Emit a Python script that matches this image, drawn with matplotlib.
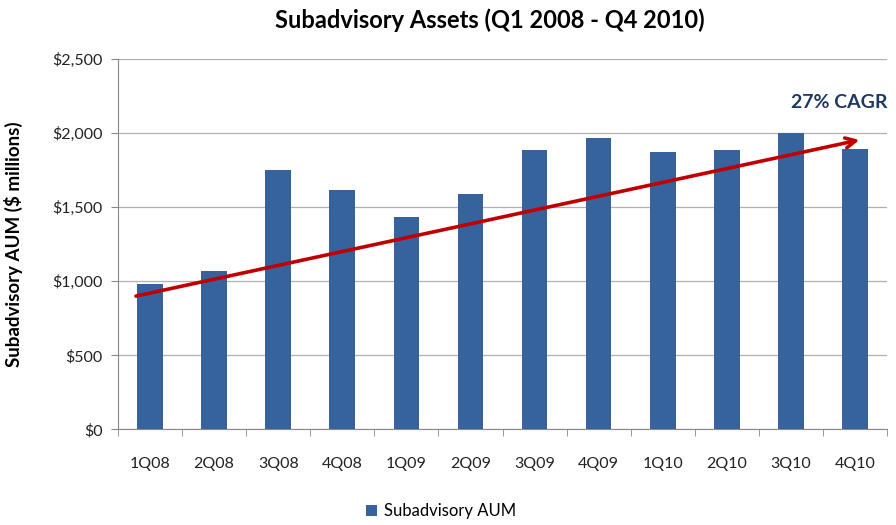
import numpy as np
import matplotlib.pyplot as plt
from matplotlib.ticker import FuncFormatter, MultipleLocator

## data
quarters = ['1Q08', '2Q08', '3Q08', '4Q08', '1Q09', '2Q09',
            '3Q09', '4Q09', '1Q10', '2Q10', '3Q10', '4Q10']
aum = [980, 1070, 1750, 1615, 1435, 1590, 1890, 1970, 1875, 1890, 2000, 1895]

trend_start = (-0.22, 900)
trend_end = (11.07, 1955)
trend_label = '27% CAGR'

plt.rcParams['font.family'] = ['Lato', 'DejaVu Sans']

fig = plt.figure(figsize=(8.96, 5.25), dpi=100)
ax = fig.add_axes([0.1317, 0.1823, 0.8583, 0.7048])

x = np.arange(len(quarters))
bars = ax.bar(x, aum, width=0.4, color='#36629E', label='Subadvisory AUM', zorder=2)

ax.set_xlim(-0.5, len(quarters) - 0.5)
ax.set_ylim(0, 2500)
ax.yaxis.set_major_locator(MultipleLocator(500))
ax.yaxis.set_major_formatter(FuncFormatter(lambda v, p: '${:,.0f}'.format(v)))
ax.grid(axis='y', color='#b0b0b0', linewidth=0.9, zorder=0)

ax.set_xticks(x)
ax.set_xticklabels(quarters)
ax.set_xticks(np.arange(-0.5, len(quarters), 1), minor=True)
ax.tick_params(axis='x', which='major', length=0, pad=20)
ax.tick_params(axis='x', which='minor', length=5, color='#888888')
ax.tick_params(axis='y', length=5, color='#888888', pad=6)
ax.tick_params(labelsize=11.5, labelcolor='#222222')

for side in ['top', 'right']:
    ax.spines[side].set_visible(False)
for side in ['left', 'bottom']:
    ax.spines[side].set_color('#888888')

ax.set_ylabel('Subadvisory AUM ($ millions)', fontsize=13.5, fontweight='bold')
ax.yaxis.set_label_coords(-0.1235, 0.5)
fig.text(0.547, 0.962, 'Subadvisory Assets (Q1 2008 - Q4 2010)', ha='center', va='center',
         fontsize=17, fontweight='bold')

# growth arrow
ax.annotate('', xy=trend_end, xytext=trend_start,
            arrowprops=dict(arrowstyle='->', color='#C00000', lw=2.6,
                            mutation_scale=18, shrinkA=0, shrinkB=0), zorder=4)
ax.text(11.5, 2205, trend_label, ha='right', va='center', fontsize=14,
        fontweight='bold', color='#1F3864')

ax.legend(loc='upper center', bbox_to_anchor=(0.42, -0.16), frameon=False,
          fontsize=12, handlelength=0.7, handleheight=0.7, handletextpad=0.4)

fig.savefig('out.png', dpi=100)
